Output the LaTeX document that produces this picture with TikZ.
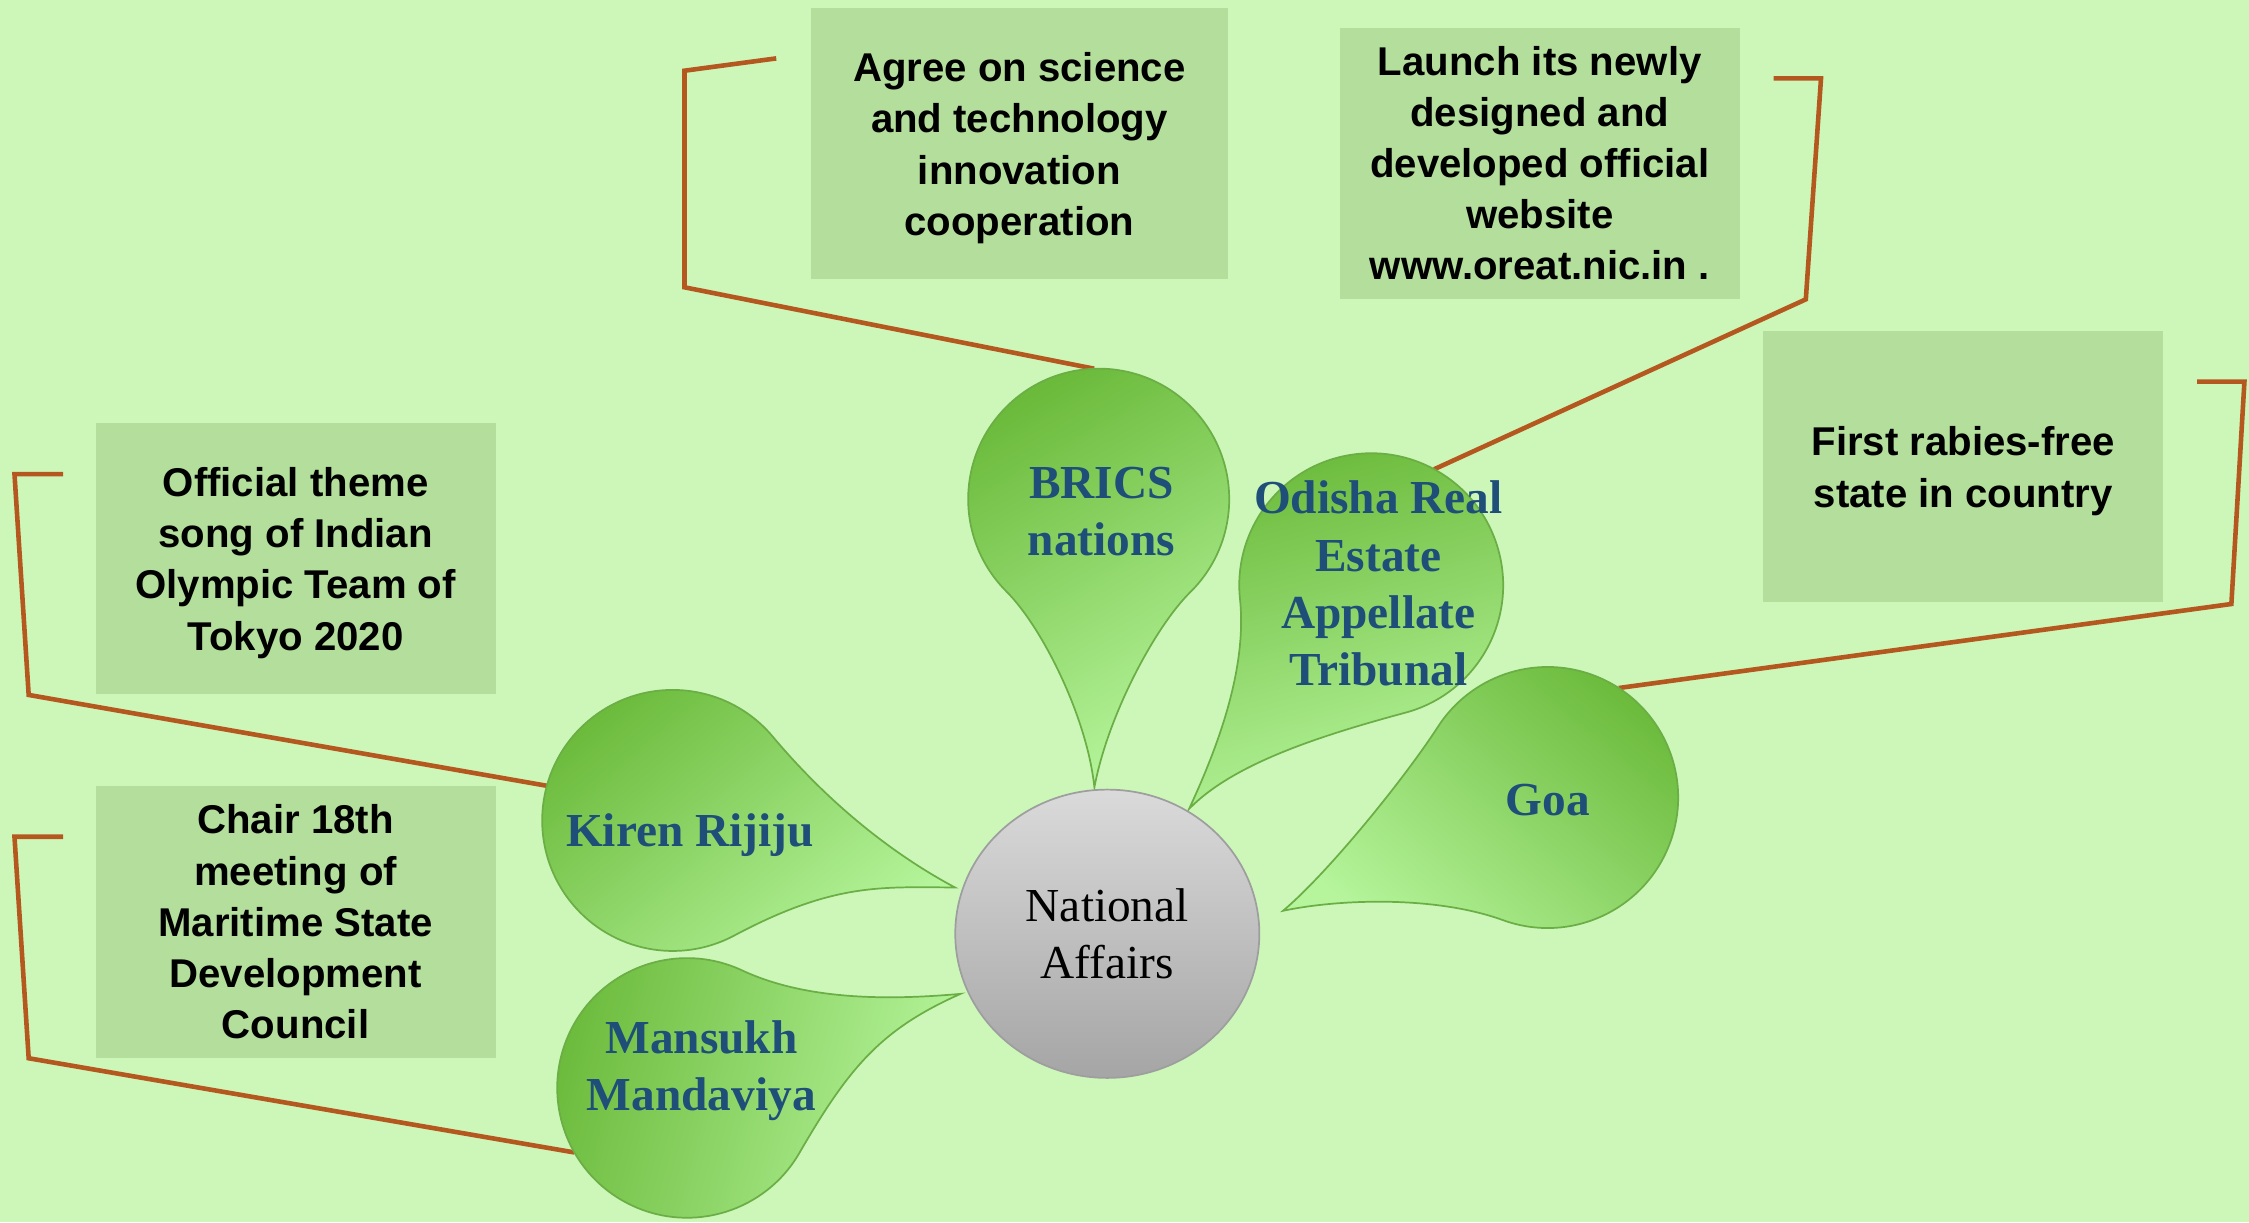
\documentclass[tikz,border=0pt]{standalone}
\usepackage{fontspec}
\setmainfont{Liberation Serif}
\newfontfamily\boxfont{Liberation Sans}
\usetikzlibrary{calc,shapes.geometric}
\definecolor{bg}{HTML}{CCF7B9}
\definecolor{boxc}{HTML}{B3DE9B}
\definecolor{conn}{HTML}{B5581F}
\definecolor{dk}{HTML}{6BBA3B}
\definecolor{lt}{HTML}{B6F59C}
\definecolor{edge}{HTML}{6AAE45}
\definecolor{tblue}{HTML}{1F4E79}
\definecolor{cgt}{HTML}{DADADA}
\definecolor{cgb}{HTML}{A5A5A5}
\definecolor{cge}{HTML}{9E9E9E}
\begin{document}
\begin{tikzpicture}[x=1pt,y=-1pt,
  boxn/.style={fill=boxc, inner sep=0pt, minimum width=279pt, minimum height=189pt},
  boxt/.style={inner sep=0pt, align=center, font=\boxfont\bfseries\fontsize{28}{35.7}\selectfont},
  conline/.style={draw=conn, line width=3.2pt},
  bubble/.style={draw=edge, line width=1.2pt, top color=dk, bottom color=lt},
  btext/.style={text=tblue, align=center, inner sep=0pt, font=\bfseries\fontsize{33}{40}\selectfont},
  ]
\fill[bg] (0,0) rectangle (1568,852);
\useasboundingbox (0,0) rectangle (1568,852);

% boxes
\node[boxn, minimum width=290.8pt] (b1) at (710.7,100.2) {};
\node[boxt] (t1) at ([yshift=-3pt]b1.center) {Agree on science\\and technology\\innovation\\cooperation};
\node[boxn] (b2) at (1073.5,113.7) {};
\node[boxt] (t2) at (b2.center) {Launch its newly\\designed and\\developed official\\website\\www.oreat.nic.in .};
\node[boxn] (b3) at (1368.8,325.5) {};
\node[boxt] (t3) at ([yshift=-3pt]b3.center) {First rabies-free\\state in country};
\node[boxn] (b4) at (206.1,389.5) {};
\node[boxt] (t4) at ([yshift=-3pt]b4.center) {Official theme\\song of Indian\\Olympic Team of\\Tokyo 2020};
\node[boxn] (b5) at (206.1,642.8) {};
\node[boxt] (t5) at (b5.center) {Chair 18th\\meeting of\\Maritime State\\Development\\Council};

% connector coordinates
\coordinate (bricsA) at ($(766,348)+(-92:91)$);
\coordinate (odishaA) at ($(956,408)+(-61.5:92)$);
\coordinate (goaA) at ($(1079,556)+(-57:91)$);
\coordinate (kirenA) at ($(469,572)+(195.4:91)$);
\coordinate (mansA) at ($(479,758.5)+(150.2:90.5)$);

\coordinate (c1a) at (477.2,200.3);
\coordinate (c1b) at (477.2,49.3);
\coordinate (c1e) at (541.2,40.7);
\coordinate (c2a) at (1259,208.7);
\coordinate (c2b) at (1269.6,54.6);
\coordinate (c2e) at (1236.5,54.6);
\coordinate (c3a) at (1555.7,421.1);
\coordinate (c3b) at (1564.8,266.1);
\coordinate (c3e) at (1531.8,266.1);
\coordinate (c4a) at (20,484.5);
\coordinate (c4b) at (10.1,330.5);
\coordinate (c4e) at (44,330.5);
\coordinate (c5a) at (20,737.8);
\coordinate (c5b) at (10.1,583.4);
\coordinate (c5e) at (44,583.4);

\draw[conline] (bricsA) -- (c1a) -- (c1b) -- (c1e);
\draw[conline] (odishaA) -- (c2a) -- (c2b) -- (c2e);
\draw[conline] (goaA) -- (c3a) -- (c3b) -- (c3e);
\draw[conline] (kirenA) -- (c4a) -- (c4b) -- (c4e);
\draw[conline] (mansA) -- (c5a) -- (c5b) -- (c5e);

% BRICS
\path[bubble, shading angle=30] (763,549) .. controls (772,500) and (805,437) .. ($(766,348)+(45:91)$)
  arc[start angle=45, end angle=-225, radius=91] .. controls (726.4,437) and (758,500) .. (763,549) -- cycle;
\node[btext] (brics) at (768,356.5) {BRICS\\nations};

% Odisha
\path[bubble, shading angle=15] (829,564) .. controls (860,532) and (922,512.5) .. ($(956,408)+(75:92)$)
  arc[start angle=75, end angle=-186, radius=92] .. controls (869.7,467.3) and (848,523) .. (829,564) -- cycle;
\node[btext] (odisha) at (961,407) {Odisha Real\\Estate\\Appellate\\Tribunal};

% Goa
\path[bubble, shading angle=-40] (894.5,635) .. controls (933.6,626.7) and (1000.9,624.4) .. ($(1079,556)+(110:91)$)
  arc[start angle=110, end angle=-148, radius=91] .. controls (977.2,545.4) and (925.1,609.3) .. (894.5,635) -- cycle;
\node[btext] (goa) at (1079,558) {Goa};

% Kiren
\path[bubble, shading angle=40] (665.8,618.7) .. controls (621.7,595.2) and (577.3,559.5) .. ($(469,572)+(-40:91)$)
  arc[start angle=-40, end angle=-298, radius=91] .. controls (582.3,614.7) and (615.8,618.7) .. (665.8,618.7) -- cycle;
\node[btext] (kiren) at (481,582) {Kiren Rijiju};

% Mansukh
\path[bubble, shading angle=75] (669.7,692.9) .. controls (619.9,697.3) and (562.5,697.6) .. ($(479,758.5)+(-65:90.5)$)
  arc[start angle=-65, end angle=-330, radius=90.5] .. controls (592.4,743.2) and (614.9,717.3) .. (669.7,692.9) -- cycle;
\node[btext] (mansukh) at (489,746.5) {Mansukh\\Mandaviya};

% centre
\node[ellipse, minimum width=212pt, minimum height=201pt, inner sep=0pt, top color=cgt, bottom color=cgb,
  draw=cge, line width=1.2pt, align=center, font=\fontsize{33}{40}\selectfont] (center) at (772,651) {National\\Affairs};
\end{tikzpicture}
\end{document}
